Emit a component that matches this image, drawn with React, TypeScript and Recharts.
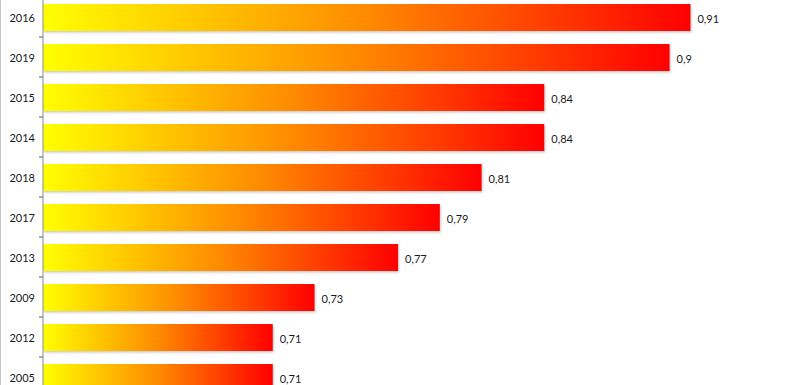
import { BarChart, Bar, XAxis, YAxis, LabelList } from 'recharts';

const years = ['2016', '2019', '2015', '2014', '2018', '2017', '2013', '2009', '2012', '2005'];
const scores = [0.91, 0.9, 0.84, 0.84, 0.81, 0.79, 0.77, 0.73, 0.71, 0.71];

const data = years.map((year, i) => ({ year, score: scores[i] }));

const CHART_W = 795;
const CHART_H = 430;
const MARGIN = { top: 17, right: 20, bottom: 13, left: 0 };
const HALF_BAND = (CHART_H - MARGIN.top - MARGIN.bottom) / data.length / 2;

const fontFamily = 'Lato, "Open Sans", sans-serif';

function YearTick(props: any) {
  const { x, y, payload } = props;
  const axisX = x;
  return (
    <g>
      <line x1={axisX - 4} x2={axisX} y1={y + HALF_BAND} y2={y + HALF_BAND} stroke="#8c8c8c" />
      <line x1={axisX - 4} x2={axisX} y1={y - HALF_BAND} y2={y - HALF_BAND} stroke="#8c8c8c" />
      <text x={axisX - 8} y={y} dy={5} textAnchor="end" fontSize={11} fill="#1a1a1a" fontFamily={fontFamily}>
        {payload.value}
      </text>
    </g>
  );
}

function ValueLabel(props: any) {
  const { x, y, width, height, value } = props;
  return (
    <text x={x + width + 7} y={y + height / 2} dy={5} fontSize={11} fill="#1a1a1a" fontFamily={fontFamily}>
      {String(value).replace('.', ',')}
    </text>
  );
}

export default function App() {
  return (
    <div
      style={{
        position: 'absolute',
        left: 0,
        top: 0,
        width: CHART_W,
        height: 385,
        overflow: 'hidden',
        background: '#fff',
        borderLeft: '1px solid #c8c8c8',
        boxSizing: 'border-box',
      }}
    >
      <div style={{ position: 'absolute', left: -2, top: -20 }}>
        <BarChart width={CHART_W} height={CHART_H} data={data} layout="vertical" margin={MARGIN}>
          <defs>
            <linearGradient id="fire" x1="0" y1="0" x2="1" y2="0">
              <stop offset="0%" stopColor="#FFFF00" />
              <stop offset="50%" stopColor="#FF8A00" />
              <stop offset="100%" stopColor="#FF0000" />
            </linearGradient>
            <filter id="shade" x="-5%" y="-20%" width="110%" height="150%" colorInterpolationFilters="sRGB">
              <feDropShadow dx="1" dy="1.5" stdDeviation="1" floodColor="#000" floodOpacity="0.22" />
            </filter>
          </defs>
          <XAxis type="number" domain={[0.6, 0.95]} hide allowDataOverflow />
          <YAxis
            type="category"
            dataKey="year"
            width={44}
            axisLine={{ stroke: '#8c8c8c' }}
            tickLine={false}
            tickSize={0}
            tickMargin={0}
            tick={<YearTick />}
            interval={0}
          />
          <Bar dataKey="score" barSize={27} fill="url(#fire)" filter="url(#shade)" isAnimationActive={false}>
            <LabelList dataKey="score" content={<ValueLabel />} />
          </Bar>
        </BarChart>
      </div>
    </div>
  );
}
